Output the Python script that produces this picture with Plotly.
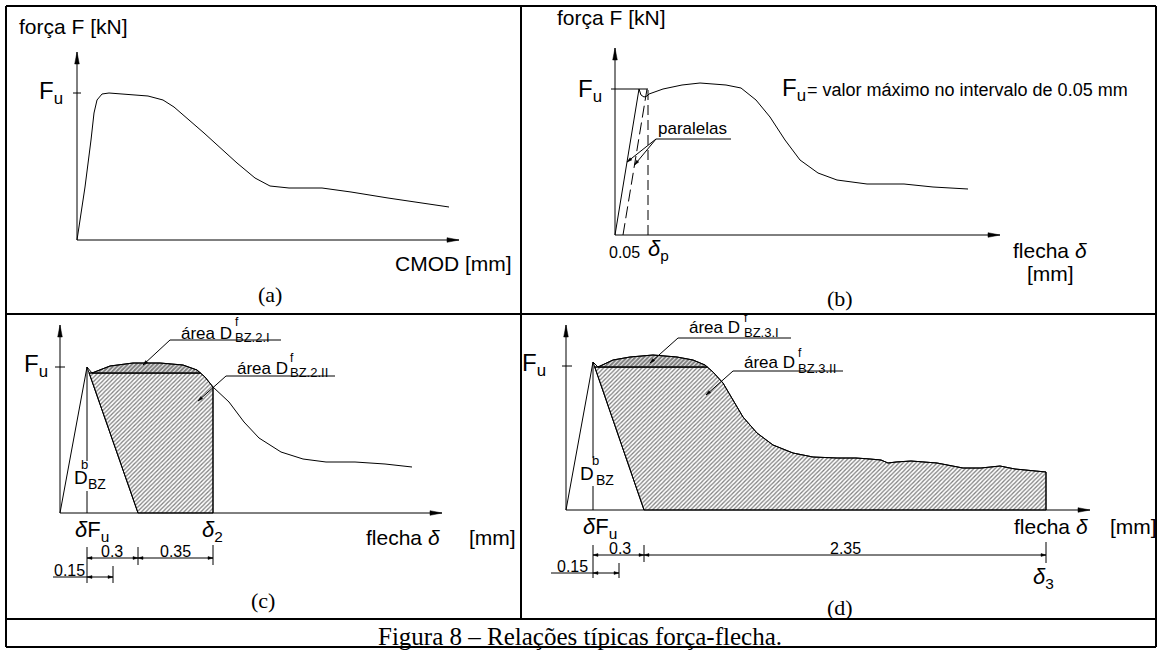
import numpy as np
import plotly.graph_objects as go

W, H = 1158, 650
SANS = "Liberation Sans, Arial, sans-serif"
SERIF = "Liberation Serif, Times New Roman, serif"

# ===================== DATA (schematic drawing units; origin = axes corner, y up) =====================
# Panel (a): força F vs CMOD
a_curve_x = [0, 8, 14, 17, 20, 25, 32, 49, 71, 86, 97, 127, 160, 178, 193, 212, 245, 274, 311, 372]
a_curve_y = [0, 53, 100, 127, 140, 146, 147, 146, 144, 140, 133, 107, 77, 62, 54, 52, 52, 48, 42, 33]
a_Fu = 147

# Panel (b): força F vs flecha
b_curve_x = [0, 24, 26, 29, 32, 34, 48, 67, 85, 111, 126, 141, 155, 170, 185, 203, 222, 252, 289, 318, 353]
b_curve_y = [0, 146, 140, 138, 139, 141, 146, 150, 152, 150, 147, 135, 118, 95, 75, 62, 55, 51, 51, 48, 46]
b_Fu = 146
b_offset_005 = 8
b_delta_p = 33

# Panel (c): areas up to delta_2
c_curve_x = [0, 27, 32, 50, 73, 100, 123, 137, 145, 153, 169, 184, 199, 221, 243, 266, 295, 325, 352]
c_curve_y = [0, 146, 140, 147, 150, 150, 148, 143, 136, 126, 111, 91, 75, 61, 54, 51, 51, 49, 46]
c_Fu = 146
c_dFu, c_foot, c_d2, c_d015 = 27, 78, 153, 53

# Panel (d): areas up to delta_3
d_curve_x = [0, 27, 32, 47, 64, 87, 111, 127, 139, 147, 157, 167, 177, 191, 207, 227, 247, 271, 290,
             304, 315, 322, 330, 345, 371, 397, 415, 434, 449, 480]
d_curve_y = [0, 148, 143, 150, 153, 155, 153, 150, 145, 138, 127, 110, 93, 77, 65, 57, 53, 52, 52,
             51, 50, 47, 48, 49, 47, 42, 42, 44, 41, 38]
d_Fu = 144
d_dFu, d_foot, d_d3, d_d015 = 27, 78, 480, 53

# ===================== LAYOUT GEOMETRY =====================
origins = {'a': (77, 240), 'b': (615, 235), 'c': (60, 513), 'd': (566, 510)}
axis_len = {'a': (382, 188), 'b': (385, 187), 'c': (382, 188), 'd': (524, 185)}
refs = {'a': ('x', 'y'), 'b': ('x2', 'y2'), 'c': ('x3', 'y3'), 'd': ('x4', 'y4')}
grid_lines = [(6, 6, 1156, 6), (6, 647, 1156, 647), (6, 6, 6, 647), (1156, 6, 1156, 647),
              (521, 6, 521, 619), (6, 314, 1156, 314), (6, 619, 1156, 619)]

fig = go.Figure()
anns = []
heads = {p: ([], []) for p in refs}


def line(p, xs, ys, width=1.0, dash=None):
    xr, yr = refs[p]
    fig.add_trace(go.Scatter(x=xs, y=ys, xaxis=xr, yaxis=yr, mode='lines',
                             line=dict(color='black', width=width, dash=dash),
                             hoverinfo='skip', showlegend=False))


def fill(p, xs, ys, size, solidity):
    xr, yr = refs[p]
    fig.add_trace(go.Scatter(x=xs, y=ys, xaxis=xr, yaxis=yr, mode='lines', fill='toself',
                             fillcolor='white',
                             fillpattern=dict(shape='/', size=size, solidity=solidity,
                                              fgcolor='black', bgcolor='white'),
                             line=dict(color='black', width=1),
                             hoverinfo='skip', showlegend=False))


def head(p, tip, frm, length=6.0, half=1.6):
    t = np.array(tip, float)
    d = t - np.array(frm, float)
    d /= np.hypot(*d)
    n = np.array([-d[1], d[0]])
    b = t - d * length
    pts = [t, b + n * half, b - n * half, t]
    hx, hy = heads[p]
    hx.extend([q[0] for q in pts] + [None])
    hy.extend([q[1] for q in pts] + [None])


def arrow(p, frm, tip, length=6.0, half=1.6, width=1.0):
    line(p, [frm[0], tip[0]], [frm[1], tip[1]], width=width)
    head(p, tip, frm, length, half)


def dim(p, x0, x1, y):
    line(p, [x0, x1], [y, y])
    head(p, (x0, y), (x1, y), 5, 1.4)
    head(p, (x1, y), (x0, y), 5, 1.4)


def text(p, x, y, s, size=16, xanchor='center', family=SANS):
    xr, yr = refs[p]
    anns.append(dict(x=x, y=y, xref=xr, yref=yr, text=s, showarrow=False, xanchor=xanchor,
                     yanchor='middle', borderpad=0,
                     font=dict(family=family, size=size, color='black')))


def ptext(x, y, s, size=16, xanchor='center', family=SANS):
    anns.append(dict(x=x / W, y=1 - y / H, xref='paper', yref='paper', text=s, showarrow=False,
                     xanchor=xanchor, yanchor='middle', borderpad=0,
                     font=dict(family=family, size=size, color='black')))


def axes(p):
    lx, ly = axis_len[p]
    arrow(p, (0, 0), (lx, 0), 12, 2.3)
    arrow(p, (0, 0), (0, ly), 12, 2.3)


def cross_down(xs, ys, level, start):
    for i in range(start, len(xs) - 1):
        if ys[i] >= level > ys[i + 1]:
            t = (ys[i] - level) / (ys[i] - ys[i + 1])
            return i, xs[i] + t * (xs[i + 1] - xs[i])
    return len(xs) - 1, xs[-1]


def area_panel(p, cx, cy, foot, x_end):
    """Hatched areas I (above the horizontal line) and II (below it, up to x_end)."""
    px_, py_ = cx[1], cy[1]          # peak
    base = cy[2]                     # level of horizontal line
    i, xc = cross_down(cx, cy, base, 3)
    xu = px_ + (py_ - base) / py_ * (foot - px_)
    y_end = float(np.interp(x_end, cx, cy))
    sx = [xu, xc] + [x for x in cx if xc < x < x_end] + [x_end, x_end, foot, xu]
    sy = [base, base] + [y for x, y in zip(cx, cy) if xc < x < x_end] + [y_end, 0, 0, base]
    fill(p, sx, sy, 3, 0.42)
    ix = [cx[2]] + cx[3:i + 1] + [xc, cx[2]]
    iy = [base] + cy[3:i + 1] + [base, base]
    fill(p, ix, iy, 3, 0.7)
    return xu, xc, base, y_end


# ---------------- Panel (a) ----------------
axes('a')
line('a', [-4, 4], [a_Fu, a_Fu])
line('a', a_curve_x, a_curve_y)
text('a', -26, a_Fu + 1, "F<sub>u</sub>", 24)
ptext(18, 26, "força F [kN]", 21, 'left')
ptext(394, 264, "CMOD [mm]", 21, 'left')
ptext(270, 294, "(a)", 22, family=SERIF)

# ---------------- Panel (b) ----------------
axes('b')
line('b', [-4, b_delta_p], [b_Fu, b_Fu])
line('b', b_curve_x, b_curve_y)
slope_b = b_curve_x[1] / b_curve_y[1]
line('b', [b_offset_005, b_offset_005 + slope_b * b_Fu], [0, b_Fu], dash='12px,5px')
line('b', [b_delta_p, b_delta_p], [0, b_Fu], dash='10px,5px')
line('b', [41, 116], [96, 96])
arrow('b', (41, 96), (slope_b * 73, 73), 5, 1.4)
arrow('b', (41, 96), (b_offset_005 + slope_b * 70, 70), 5, 1.4)
text('b', -25, b_Fu - 1, "F<sub>u</sub>", 24)
text('b', 9, -17, "0.05", 16)
text('b', 43, -15, "<i>δ</i><sub>p</sub>", 22)
text('b', 77, 107, "paralelas", 17)
text('b', 166, 146, "F<sub>u</sub>", 24, 'left')
text('b', 191, 145, "= valor máximo no intervalo de 0.05 mm", 18, 'left')
text('b', 435, -15, "flecha <i>δ</i>", 21)
text('b', 435, -38, "[mm]", 21)
ptext(556, 17, "força F [kN]", 21, 'left')
ptext(840, 298, "(b)", 22, family=SERIF)

# ---------------- Panel (c) ----------------
xu, xc, base, y2 = area_panel('c', c_curve_x, c_curve_y, c_foot, c_d2)
axes('c')
line('c', [-5, 5], [c_Fu, c_Fu])
line('c', c_curve_x, c_curve_y)
line('c', [c_curve_x[1], c_foot], [c_curve_y[1], 0])
line('c', [xu, xc], [base, base])
line('c', [c_d2, c_d2], [0, y2])
line('c', [c_dFu, c_dFu], [c_curve_y[1], 52])
line('c', [c_dFu, c_dFu], [22, 0])
dim('c', c_dFu, c_foot, -45)
dim('c', c_foot, c_d2, -45)
line('c', [-7, c_dFu], [-64, -64])
dim('c', c_dFu, c_d015, -64)
for xt, y0, y1 in [(c_dFu, -34, -70), (c_foot, -34, -52), (c_d2, -32, -52), (c_d015, -53, -70)]:
    line('c', [xt, xt], [y0, y1])
text('c', 52, -38, "0.3", 16)
text('c', 115, -38, "0.35", 16)
text('c', 9, -57, "0.15", 16)
line('c', [110, 221], [173, 173])
arrow('c', (110, 173), (83, 148), 5, 1.4)
line('c', [166, 275], [137, 137])
arrow('c', (166, 137), (138, 112), 5, 1.4)
text('c', 120, 180, "área D", 17, 'left')
text('c', 177, 191, "f", 12)
text('c', 174, 176, "BZ.2.I", 13, 'left')
text('c', 176, 145, "área D", 17, 'left')
text('c', 232, 155, "f", 12)
text('c', 229, 141, "BZ.2.II", 13, 'left')
text('c', -24, c_Fu + 2, "F<sub>u</sub>", 24)
text('c', 13, 36, "D", 19, 'left')
text('c', 24, 49, "b", 13)
text('c', 27, 29, "BZ", 14, 'left')
text('c', 32, -18, "<i>δ</i>F<sub>u</sub>", 22)
text('c', 152, -18, "<i>δ</i><sub>2</sub>", 22)
text('c', 305, -24, "flecha <i>δ</i>", 21, 'left')
text('c', 408, -24, "[mm]", 21, 'left')
ptext(263, 600, "(c)", 22, family=SERIF)

# ---------------- Panel (d) ----------------
xu, xc, base, y3 = area_panel('d', d_curve_x, d_curve_y, d_foot, d_d3)
axes('d')
line('d', [-4, 6], [d_Fu, d_Fu])
line('d', d_curve_x, d_curve_y)
line('d', [d_curve_x[1], d_foot], [d_curve_y[1], 0])
line('d', [xu, xc], [base, base])
line('d', [d_d3, d_d3], [0, y3])
line('d', [d_dFu, d_dFu], [d_curve_y[1], 52])
line('d', [d_dFu, d_dFu], [24, 0])
dim('d', d_dFu, d_foot, -45)
dim('d', d_foot, d_d3, -45)
line('d', [-15, d_dFu], [-63, -63])
dim('d', d_dFu, d_d015, -63)
for xt, y0, y1 in [(d_dFu, -35, -68), (d_foot, -35, -52), (d_d3, -32, -53), (d_d015, -53, -68)]:
    line('d', [xt, xt], [y0, y1])
text('d', 54, -38, "0.3", 16)
text('d', 279, -38, "2.35", 16)
text('d', 6, -56, "0.15", 16)
line('d', [112, 225], [172, 172])
arrow('d', (112, 172), (84, 147), 5, 1.4)
line('d', [167, 277], [139, 139])
arrow('d', (167, 139), (140, 115), 5, 1.4)
text('d', 122, 183, "área D", 17, 'left')
text('d', 180, 192, "f", 12)
text('d', 177, 178, "BZ.3.I", 13, 'left')
text('d', 177, 148, "área D", 17, 'left')
text('d', 234, 157, "f", 12)
text('d', 231, 142, "BZ.3.II", 13, 'left')
text('d', -32, d_Fu + 2, "F<sub>u</sub>", 24)
text('d', 13, 37, "D", 19, 'left')
text('d', 29, 50, "b", 13)
text('d', 29, 30, "BZ", 14, 'left')
text('d', 34, -18, "<i>δ</i>F<sub>u</sub>", 22)
text('d', 477, -68, "<i>δ</i><sub>3</sub>", 22)
text('d', 447, -16, "flecha <i>δ</i>", 21, 'left')
text('d', 543, -16, "[mm]", 21, 'left')
ptext(840, 607, "(d)", 22, family=SERIF)

# caption
ptext(580, 636, "Figura 8 – Relações típicas força-flecha.", 25, family=SERIF)

# arrowheads
for p, (hx, hy) in heads.items():
    xr, yr = refs[p]
    fig.add_trace(go.Scatter(x=hx, y=hy, xaxis=xr, yaxis=yr, mode='lines', fill='toself',
                             fillcolor='black', line=dict(color='black', width=0.5),
                             hoverinfo='skip', showlegend=False))

# axes (one invisible pair per panel, 1 unit = 1 px)
layout_axes = {}
for p, (xr, yr) in refs.items():
    ox, oy = origins[p]
    xn = 'xaxis' + xr[1:]
    yn = 'yaxis' + yr[1:]
    layout_axes[xn] = dict(domain=[0, 1], range=[-ox, W - ox], visible=False, anchor=yr,
                           fixedrange=True)
    layout_axes[yn] = dict(domain=[0, 1], range=[oy - H, oy], visible=False, anchor=xr,
                           fixedrange=True)

shapes = [dict(type='line', xref='paper', yref='paper', x0=x0 / W, y0=1 - y0 / H, x1=x1 / W,
               y1=1 - y1 / H, line=dict(color='black', width=2))
          for x0, y0, x1, y1 in grid_lines]

fig.update_layout(width=W, height=H, margin=dict(l=0, r=0, t=0, b=0, pad=0),
                  paper_bgcolor='white', plot_bgcolor='rgba(0,0,0,0)', showlegend=False,
                  annotations=anns, shapes=shapes, **layout_axes)

fig.write_html("out.html", config={'displayModeBar': False},
               post_script="document.body.style.margin='0';")
